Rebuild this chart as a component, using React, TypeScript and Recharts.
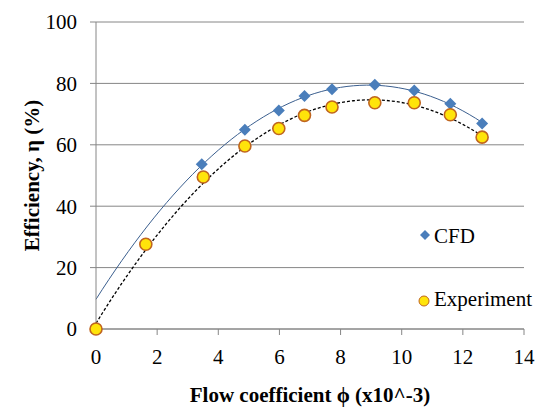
import React from "react";
import { ComposedChart, Scatter, Line, XAxis, YAxis, CartesianGrid } from "recharts";

// Flow coefficient (x10^-3) and efficiency (%) for each series
const cfdFlow = [3.46, 4.87, 5.98, 6.82, 7.72, 9.12, 10.41, 11.59, 12.63];
const cfdEff = [53.7, 64.9, 71.2, 75.9, 78.1, 79.6, 77.7, 73.4, 66.9];
const expFlow = [0, 1.63, 3.51, 4.87, 5.98, 6.82, 7.72, 9.12, 10.41, 11.59, 12.63];
const expEff = [0, 27.6, 49.5, 59.6, 65.3, 69.6, 72.3, 73.7, 73.7, 69.8, 62.5];

const xTicks = [0, 2, 4, 6, 8, 10, 12, 14];
const yTicks = [0, 20, 40, 60, 80, 100];

const FONT = "Liberation Serif, Tinos, Times New Roman, Times, serif";
const AXIS_GREY = "#868686";
const CFD_BLUE = "#4a7ebb";
const EXP_FILL = "#ffe40a";
const EXP_EDGE = "#c0651f";

const toPoints = (xs: number[], ys: number[]) => xs.map((x, i) => ({ x, y: ys[i] }));

// second-order least squares fit, y = a + b x + c x^2
function quadFit(xs: number[], ys: number[]) {
  let s0 = 0, s1 = 0, s2 = 0, s3 = 0, s4 = 0, t0 = 0, t1 = 0, t2 = 0;
  xs.forEach((x, i) => {
    const y = ys[i];
    s0 += 1; s1 += x; s2 += x * x; s3 += x * x * x; s4 += x * x * x * x;
    t0 += y; t1 += x * y; t2 += x * x * y;
  });
  const det3 = (m: number[][]) =>
    m[0][0] * (m[1][1] * m[2][2] - m[1][2] * m[2][1]) -
    m[0][1] * (m[1][0] * m[2][2] - m[1][2] * m[2][0]) +
    m[0][2] * (m[1][0] * m[2][1] - m[1][1] * m[2][0]);
  const M = [[s0, s1, s2], [s1, s2, s3], [s2, s3, s4]];
  const T = [t0, t1, t2];
  const D = det3(M);
  const coef = [0, 1, 2].map((col) =>
    det3(M.map((row, r) => row.map((v, c) => (c === col ? T[r] : v)))) / D
  );
  return (x: number) => coef[0] + coef[1] * x + coef[2] * x * x;
}

// trendline drawn from phi = 0 to the last measured point
function trendline(xs: number[], ys: number[]) {
  const f = quadFit(xs, ys);
  const end = Math.max(...xs);
  const steps = 60;
  return Array.from({ length: steps + 1 }, (_, i) => {
    const x = (end * i) / steps;
    return { x, y: f(x) };
  });
}

const cfdPoints = toPoints(cfdFlow, cfdEff);
const expPoints = toPoints(expFlow, expEff);
const cfdTrend = trendline(cfdFlow, cfdEff);
const expTrend = trendline(expFlow, expEff);

const Diamond = (props: any) => {
  const { cx, cy } = props;
  const r = 6;
  return (
    <polygon
      points={`${cx},${cy - r} ${cx + r},${cy} ${cx},${cy + r} ${cx - r},${cy}`}
      fill={CFD_BLUE}
    />
  );
};

const Dot = (props: any) => {
  const { cx, cy } = props;
  return <circle cx={cx} cy={cy} r={6} fill={EXP_FILL} stroke={EXP_EDGE} strokeWidth={1.6} />;
};

// legend sits inside the plot area, bottom right
const LegendBox = () => (
  <svg
    width={124}
    height={90}
    style={{ position: "absolute", left: 419, top: 222, overflow: "visible" }}
  >
    <polygon points="6,8 11,13 6,18 1,13" fill={CFD_BLUE} />
    <text x={15} y={21} style={{ fontFamily: FONT }} fontSize={21} fill="#000">CFD</text>
    <circle cx={5} cy={79} r={5} fill={EXP_FILL} stroke={EXP_EDGE} strokeWidth={1} />
    <text x={15} y={84} style={{ fontFamily: FONT }} fontSize={21} fill="#000">Experiment</text>
  </svg>
);

export default function App() {
  return (
    <div style={{ position: "absolute", left: 0, top: 0, width: 544, height: 408, background: "#fff", fontFamily: FONT }}>
      <ComposedChart
        width={544}
        height={408}
        margin={{ top: 22, right: 20, bottom: 0, left: 0 }}
        style={{ fontFamily: FONT }}
      >
        <CartesianGrid horizontal vertical={false} stroke={AXIS_GREY} strokeWidth={1} />
        <XAxis
          type="number"
          dataKey="x"
          domain={[0, 14]}
          ticks={xTicks}
          height={79}
          stroke={AXIS_GREY}
          tickSize={6}
          tickMargin={14}
          tick={{ fill: "#000", fontSize: 21, style: { fontFamily: FONT } }}
          label={{
            value: "Flow coefficient \u03d5 (x10^-3)",
            position: "insideBottom",
            offset: 6,
            fill: "#000",
            fontSize: 21,
            fontWeight: "bold",
            style: { fontFamily: FONT },
          }}
        />
        <YAxis
          type="number"
          dataKey="y"
          domain={[0, 100]}
          ticks={yTicks}
          width={96}
          stroke={AXIS_GREY}
          tickSize={6}
          tickMargin={13}
          tick={{ fill: "#000", fontSize: 21, style: { fontFamily: FONT } }}
          label={{
            value: "Efficiency, \u03b7 (%)",
            angle: -90,
            position: "insideLeft",
            offset: 32,
            style: { textAnchor: "middle", fontFamily: FONT },
            fill: "#000",
            fontSize: 21,
            fontWeight: "bold",
          }}
        />
        <Scatter name="CFD" data={cfdPoints} shape={Diamond} isAnimationActive={false} />
        <Scatter name="Experiment" data={expPoints} shape={Dot} isAnimationActive={false} />
        <Line
          data={cfdTrend}
          dataKey="y"
          type="monotone"
          stroke="#3b5f8f"
          strokeWidth={1}
          dot={false}
          activeDot={false}
          legendType="none"
          isAnimationActive={false}
        />
        <Line
          data={expTrend}
          dataKey="y"
          type="monotone"
          stroke="#000"
          strokeWidth={1.3}
          strokeDasharray="3 2"
          dot={false}
          activeDot={false}
          legendType="none"
          isAnimationActive={false}
        />
      </ComposedChart>
      <LegendBox />
    </div>
  );
}
